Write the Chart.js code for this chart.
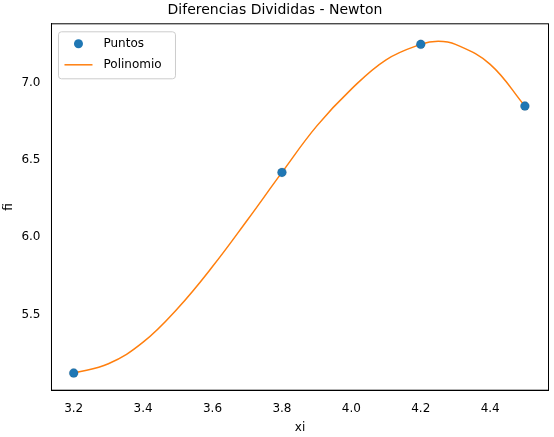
<!DOCTYPE html>
<html><head><meta charset="utf-8">
<script src="https://cdn.jsdelivr.net/npm/chart.js@4"></script>
<style>body{margin:0;background:#fff}#wrap{width:554px;height:437px}</style>
</head><body><div id="wrap"><canvas id="c"></canvas></div>
<script>
const xPuntos = [3.2, 3.8, 4.2, 4.5];
const fPuntos = [5.12, 6.42, 7.25, 6.85];
const xCurva = [3.2, 3.3, 3.4, 3.5, 3.6, 3.7, 3.8, 3.9, 4.0, 4.1, 4.2, 4.25, 4.3, 4.4, 4.5];
const fCurva = [5.12, 5.18, 5.32, 5.54, 5.81, 6.11, 6.42, 6.72, 6.96, 7.15, 7.25, 7.27, 7.25, 7.12, 6.85];
const xTicks = [3.2, 3.4, 3.6, 3.8, 4.0, 4.2, 4.4];
const yTicks = [5.5, 6.0, 6.5, 7.0];

Chart.defaults.font.family = 'DejaVu Sans';
Chart.defaults.color = '#000';

const legendBox = {
    id: 'legendBox',
    afterDraw(chart) {
        const ctx = chart.ctx, a = chart.chartArea;
        ctx.save();
        ctx.strokeStyle = '#000'; ctx.lineWidth = 1;
        ctx.strokeRect(a.left, a.top, a.right - a.left, a.bottom - a.top);
        const x = a.left + 7, y = a.top + 8;
        ctx.strokeStyle = '#ccc'; ctx.fillStyle = 'rgba(255,255,255,0.8)';
        ctx.beginPath(); ctx.roundRect(x, y, 117, 47, 3); ctx.fill(); ctx.stroke();
        ctx.fillStyle = '#1f77b4';
        ctx.beginPath(); ctx.arc(x + 20, y + 12, 4.5, 0, Math.PI * 2); ctx.fill();
        ctx.strokeStyle = '#ff7f0e'; ctx.lineWidth = 1.5;
        ctx.beginPath(); ctx.moveTo(x + 6, y + 33); ctx.lineTo(x + 34, y + 33); ctx.stroke();
        ctx.fillStyle = '#000'; ctx.font = '12px DejaVu Sans'; ctx.textBaseline = 'middle';
        ctx.fillText('Puntos', x + 45, y + 12);
        ctx.fillText('Polinomio', x + 45, y + 33);
        ctx.restore();
    }
};

new Chart(document.getElementById('c'), {
    type: 'scatter',
    data: {
        datasets: [
            {
                label: 'Puntos',
                data: xPuntos.map((x, i) => ({x: x, y: fPuntos[i]})),
                backgroundColor: '#1f77b4',
                pointRadius: 4.5,
                order: 0
            },
            {
                label: 'Polinomio',
                type: 'line',
                data: xCurva.map((x, i) => ({x: x, y: fCurva[i]})),
                borderColor: '#ff7f0e',
                borderWidth: 1.5,
                pointRadius: 0,
                tension: 0.4,
                order: 1
            }
        ]
    },
    options: {
        responsive: true,
        maintainAspectRatio: false,
        animation: false,
        layout: {padding: {right: 4, top: 0}},
        plugins: {
            legend: {display: false},
            tooltip: {enabled: false},
            title: {display: true, text: 'Diferencias Divididas - Newton',
                    font: {size: 14, weight: 'normal'}, padding: {top: 2, bottom: 5}}
        },
        scales: {
            x: {
                type: 'linear', min: 3.136, max: 4.568,
                title: {display: true, text: 'xi', padding: 2},
                grid: {display: false},
                border: {color: '#000'},
                ticks: {callback: v => v.toFixed(1)},
                afterBuildTicks: s => { s.ticks = xTicks.map(v => ({value: v})); }
            },
            y: {
                min: 5.009, max: 7.383,
                title: {display: true, text: 'fi', padding: 2},
                grid: {display: false},
                border: {color: '#000'},
                ticks: {callback: v => v.toFixed(1)},
                afterBuildTicks: s => { s.ticks = yTicks.map(v => ({value: v})); }
            }
        }
    },
    plugins: [legendBox]
});
</script></body></html>
